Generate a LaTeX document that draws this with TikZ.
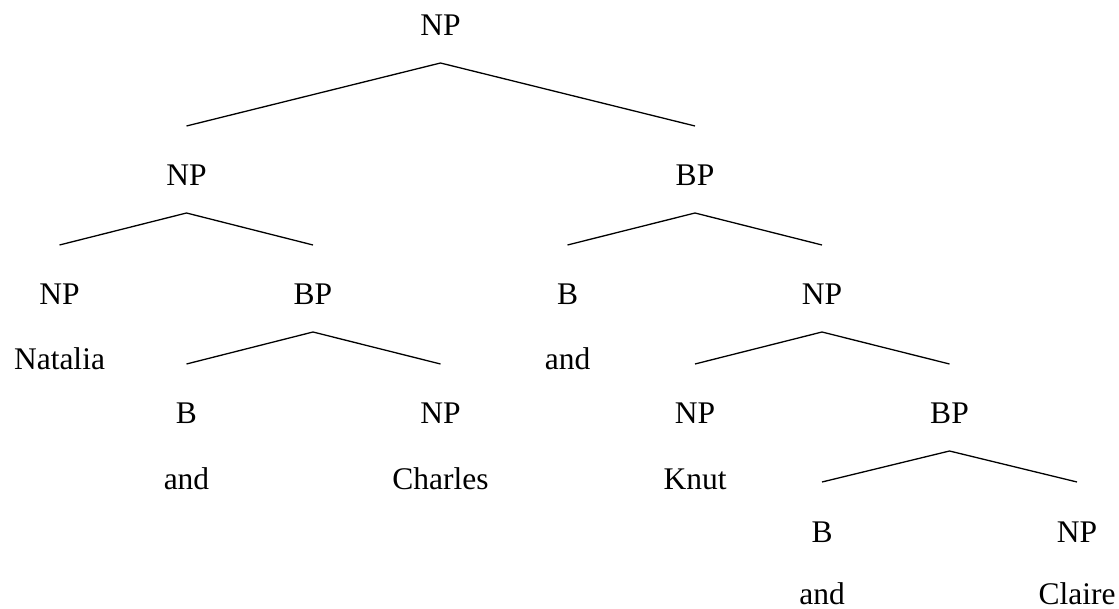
\documentclass[tikz,border=0pt]{standalone}
\usepackage{fontspec}
\setmainfont{Liberation Serif}
\begin{document}
\begin{tikzpicture}[x=1pt,y=-1pt,
  lbl/.style={anchor=base,inner sep=0pt,font=\fontsize{31.5}{36}\selectfont},
  branch/.style={line width=1.3pt,line join=miter}]
\useasboundingbox (0,0) rectangle (1119,609);
% column positions
\def\cA{59.5}\def\cB{186.5}\def\cC{313}\def\cD{440.5}\def\cE{567.5}
\def\cF{695}\def\cG{822}\def\cH{949.5}\def\cI{1077}
% category labels
\node[lbl] (np0)  at (\cD,36)  {NP};
\node[lbl] (np1)  at (\cB,186) {NP};
\node[lbl] (bp1)  at (\cF,186) {BP};
\node[lbl] (np2)  at (\cA,305) {NP};
\node[lbl] (bp2)  at (\cC,305) {BP};
\node[lbl] (b2)   at (\cE,305) {B};
\node[lbl] (np2b) at (\cG,305) {NP};
\node[lbl] (b3)   at (\cB,424) {B};
\node[lbl] (np3)  at (\cD,424) {NP};
\node[lbl] (np3b) at (\cF,424) {NP};
\node[lbl] (bp3)  at (\cH,424) {BP};
\node[lbl] (b4)   at (\cG,542) {B};
\node[lbl] (np4)  at (\cI,542) {NP};
% words
\node[lbl] (w1) at (\cA,370) {Natalia};
\node[lbl] (w2) at (\cE,370) {and};
\node[lbl] (w3) at (\cB,489) {and};
\node[lbl] (w4) at (\cD,489) {Charles};
\node[lbl] (w5) at (\cF,489) {Knut};
\node[lbl] (w6) at (\cG,604) {and};
\node[lbl] (w7) at (\cI,604) {Claire};
% branches: from below the parent to above each child
\newcommand\branchpair[3]{%
  \draw[branch] ([yshift=60pt]#2.base) -- ([yshift=-27pt]#1.base) -- ([yshift=60pt]#3.base);}
\branchpair{np0}{np1}{bp1}
\branchpair{np1}{np2}{bp2}
\branchpair{bp1}{b2}{np2b}
\branchpair{bp2}{b3}{np3}
\branchpair{np2b}{np3b}{bp3}
\branchpair{bp3}{b4}{np4}
\end{tikzpicture}
\end{document}
